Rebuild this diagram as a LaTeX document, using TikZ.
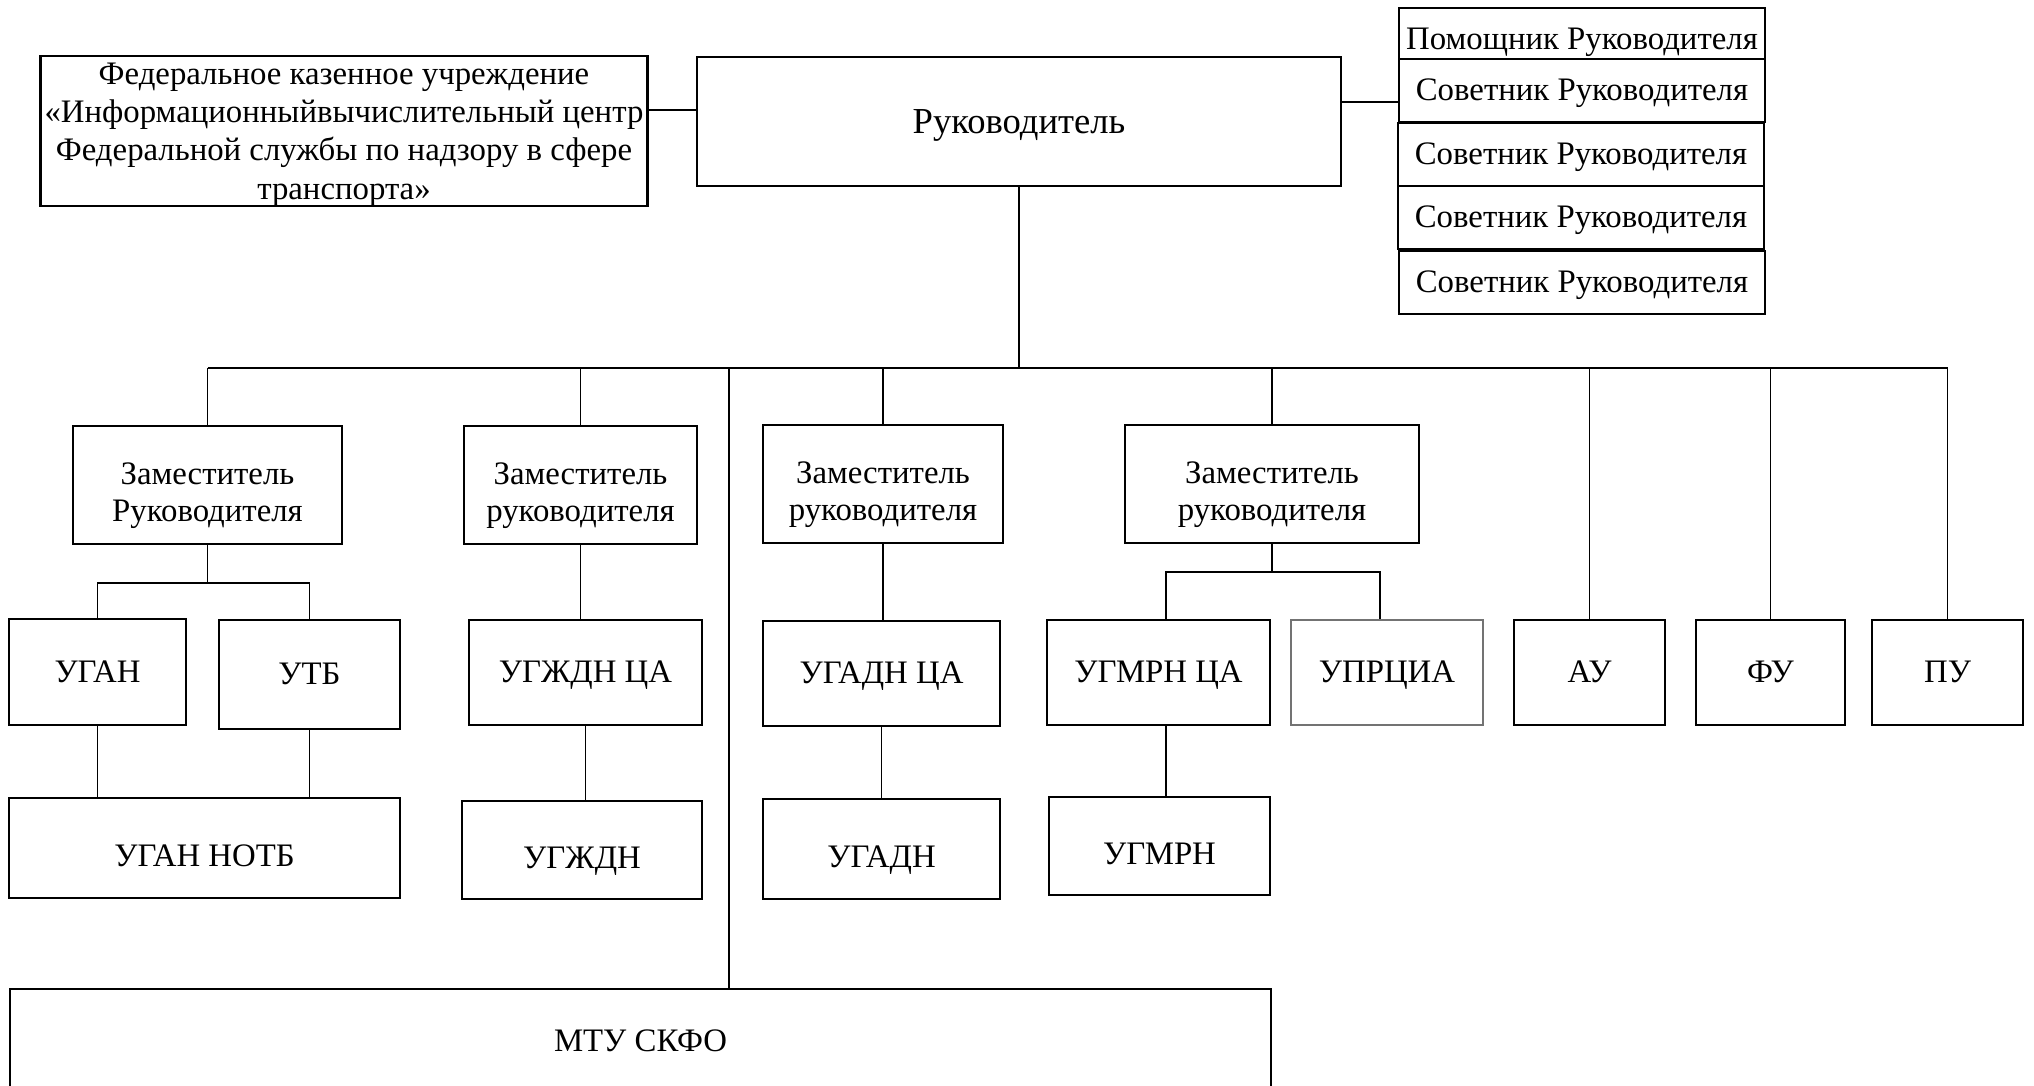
\documentclass[tikz,border=0pt]{standalone}
\usepackage{fontspec}
\setmainfont{Liberation Serif}
\usetikzlibrary{positioning}

\begin{document}
\begin{tikzpicture}[x=0.5pt,y=-0.5pt,semithick,
unit/.style={rectangle, draw, line width=1.1pt, inner sep=2pt, align=center, text height=10.4pt, text depth=0pt, font=\fontsize{16.4}{18.7}\selectfont},
low/.style={text height=#1},
two/.style={text height=36.64pt, text depth=0pt},
link/.style={line width=0.8pt}] % every box of the chart is a unit, low pushes its text down a bit, two is for the boxes with two lines, link is the thin line between boxes
\useasboundingbox (0,0) rectangle (2034,1086);

% top row: the head and the boxes beside it
\node[unit, minimum width=322pt, minimum height=64.5pt, low=12pt, font=\fontsize{18.3}{22}\selectfont](R) at (1019,121.5){Руководитель};
\node[unit, minimum width=295pt, minimum height=75pt, low=68.34pt, font=\fontsize{16.4}{19.2}\selectfont](F) at (344,131){Федеральное казенное учреждение\\«Информационныйвычислительный центр\\Федеральной службы по надзору в сфере\\транспорта»};
\node[unit, minimum width=183pt, minimum height=25.5pt, inner sep=0pt, low=16pt](P) at (1582,33.5){Помощник Руководителя};
\node[unit, minimum width=183pt, minimum height=31.5pt, low=9.7pt](S1) at (1582,90.5){Советник Руководителя};
\node[unit, minimum width=183pt, minimum height=31.5pt, low=9.7pt](S2) at (1581,154.5){Советник Руководителя};
\node[unit, minimum width=183pt, minimum height=31.5pt, low=9.7pt](S3) at (1581,217.5){Советник Руководителя};
\node[unit, minimum width=183pt, minimum height=31.5pt, low=9.7pt](S4) at (1582,282.5){Советник Руководителя};

% second row: the deputies
\node[unit, two, minimum width=134.5pt, minimum height=59pt](Z1) at (207.5,485){Заместитель\\Руководителя};
\node[unit, two, minimum width=116.5pt, minimum height=59pt](Z2) at (580.5,485){Заместитель\\руководителя};
\node[unit, two, minimum width=120pt, minimum height=59pt](Z3) at (883,484){Заместитель\\руководителя};
\node[unit, two, minimum width=147pt, minimum height=59pt](Z4) at (1272,484){Заместитель\\руководителя};

% third row: the departments
\node[unit, minimum width=88.5pt, minimum height=53pt](A1) at (97.5,672){УГАН};
\node[unit, minimum width=90.5pt, minimum height=54.5pt](A2) at (309.5,674.5){УТБ};
\node[unit, minimum width=116.5pt, minimum height=52.5pt](B1) at (585.5,672.5){УГЖДН ЦА};
\node[unit, minimum width=118.5pt, minimum height=52.5pt](C1) at (881.5,673.5){УГАДН ЦА};
\node[unit, minimum width=111.5pt, minimum height=52.5pt](D1) at (1158.5,672.5){УГМРН ЦА};
\node[unit, minimum width=96pt, minimum height=52.5pt, draw=black!55, line width=0.7pt](D2) at (1387,672.5){УПРЦИА};
\node[unit, minimum width=75.5pt, minimum height=52.5pt](AU) at (1589.5,672.5){АУ};
\node[unit, minimum width=74.5pt, minimum height=52.5pt](FU) at (1770.5,672.5){ФУ};
\node[unit, minimum width=75.5pt, minimum height=52.5pt](PU) at (1947.5,672.5){ПУ};

% fourth row, text sits low in these
\node[unit, minimum width=195.5pt, minimum height=50pt, low=18.9pt](A3) at (204.5,848){УГАН НОТБ};
\node[unit, minimum width=120pt, minimum height=49pt, low=18.9pt](B2) at (582,850){УГЖДН};
\node[unit, minimum width=118.5pt, minimum height=50pt, low=18.9pt](C2) at (881.5,849){УГАДН};
\node[unit, minimum width=110.5pt, minimum height=49pt, low=18.9pt](D3) at (1159.5,846){УГМРН};

% the wide box at the bottom, it runs past the lower edge
\node[unit, minimum width=630.5pt, minimum height=51.5pt, low=10.74pt](M) at (640.5,1040.5){МТУ СКФО};

\coordinate (bus) at (0,368); % height of the long horizontal line under the head
\coordinate (Mtop) at (729,368);
\coordinate (br1) at (207.5,583);
\coordinate (br4) at (1272,572);

% head to its neighbours
\draw[link]([yshift=5.75pt]R.west) -- ([yshift=5.75pt]R.west -| F.east);
\draw[link]([yshift=9.75pt]R.east) -- ([yshift=9.75pt]R.east -| S1.west);

% head down to the bus, then the bus and its drops
\draw[link](R.south) -- (R.south |- bus);
\draw[link](Z1.north |- bus) -- (PU.north |- bus);
\foreach \n in {Z1,Z2,Z3,Z4,AU,FU,PU}
  \draw[link](\n.north |- bus) -- (\n.north);
\draw[link](Mtop) -- (Mtop |- M.north);

% first deputy splits in two, both join again below
\draw[link](Z1.south) -- (br1);
\draw[link](A1.north) |- (br1) -| (A2.north);
\draw[link](A1.south) -- (A1.south |- A3.north);
\draw[link](A2.south) -- (A2.south |- A3.north);

% second and third deputies are straight chains
\draw[link](Z2.south) -- (Z2.south |- B1.north);
\draw[link](B1.south) -- (B1.south |- B2.north);
\draw[link](Z3.south) -- (Z3.south |- C1.north);
\draw[link](C1.south) -- (C1.south |- C2.north);

% fourth deputy
\draw[link](Z4.south) -- (br4);
\draw[link]([xshift=3.75pt]D1.north) |- (br4) -| ([xshift=-3.5pt]D2.north);
\draw[link]([xshift=3.75pt]D1.south) -- ([xshift=3.75pt]D1.south |- D3.north);

\end{tikzpicture}
\end{document}
